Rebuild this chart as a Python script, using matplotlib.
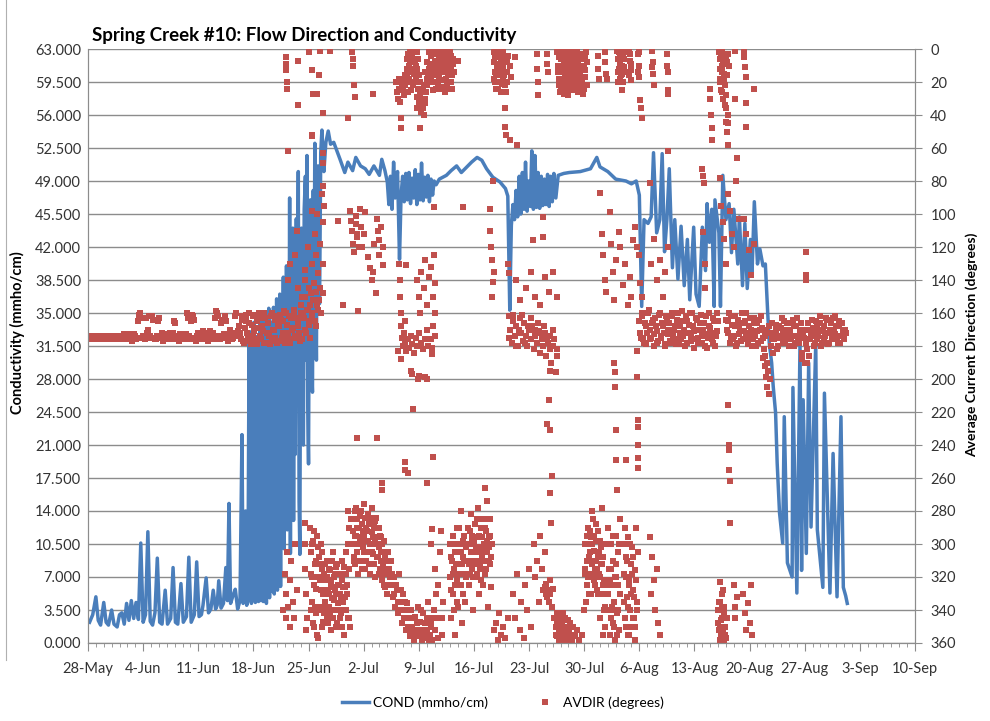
import datetime as dt
import numpy as np
import matplotlib
matplotlib.use('Agg')
import matplotlib.pyplot as plt
import matplotlib.dates as mdates
from matplotlib.lines import Line2D

# all times are days after 28-May
start = dt.datetime(2010, 5, 28)

# ---- COND (mmho/cm), line vertices (day, value) ----
cond_early = [(0.2, 2.2), (0.6, 3.0), (1.0, 4.9), (1.3, 2.4), (1.6, 1.9), (2.0, 4.3), (2.3, 2.2), (2.6, 1.9),
              (3.0, 3.5), (3.3, 2.0), (3.7, 1.7), (4.0, 3.0), (4.3, 3.2), (4.6, 2.0), (4.9, 4.2), (5.2, 2.4),
              (5.5, 4.5), (5.8, 2.6), (6.1, 4.3), (6.4, 2.5), (6.7, 10.6), (7.0, 2.2), (7.3, 3.0), (7.6, 11.8),
              (7.9, 2.3), (8.2, 1.9), (8.5, 3.2), (8.8, 9.0), (9.1, 2.2), (9.4, 2.0), (9.8, 5.6), (10.1, 2.0),
              (10.5, 2.6), (10.8, 8.0), (11.1, 2.2), (11.4, 2.0), (11.8, 6.3), (12.1, 2.2), (12.5, 2.8),
              (12.8, 9.1), (13.1, 2.2), (13.5, 3.0), (13.8, 8.6), (14.1, 2.8), (14.4, 3.0), (14.6, 4.0),
              (15.0, 6.9), (15.3, 3.2), (15.6, 3.6), (15.9, 5.6), (16.2, 3.6), (16.4, 4.0), (16.6, 6.6),
              (16.9, 3.7), (17.2, 4.2), (17.5, 8.0), (17.7, 4.5), (17.9, 14.8), (18.1, 4.2), (18.4, 5.0),
              (18.7, 5.7), (19.0, 3.6), (19.3, 4.5)]

cond_rise = [(19.55, 22.1), (19.7, 4.2), (19.85, 6.0), (20.0, 14.0), (20.15, 4.0), (20.3, 4.8),
             (20.45, 31.8), (20.55, 4.5), (20.65, 33.0), (20.75, 4.2), (20.85, 29.0), (20.95, 4.6),
             (21.05, 34.0), (21.15, 25.5), (21.25, 4.3), (21.35, 32.5), (21.45, 5.0), (21.55, 30.0),
             (21.65, 4.4), (21.75, 18.5), (21.85, 34.5), (21.95, 4.5), (22.05, 33.0), (22.15, 19.0),
             (22.25, 4.4), (22.35, 35.0), (22.45, 5.0), (22.55, 28.5), (22.65, 4.2), (22.75, 33.5),
             (22.85, 6.0), (22.95, 35.5), (23.05, 4.8), (23.15, 26.0), (23.25, 5.5), (23.35, 34.0),
             (23.45, 7.5), (23.55, 35.6), (23.65, 5.2), (23.75, 30.0), (23.85, 13.0), (23.95, 36.5),
             (24.05, 5.6), (24.15, 34.0), (24.25, 10.0), (24.35, 37.0), (24.45, 6.0), (24.55, 33.0),
             (24.65, 14.0), (24.8, 38.8), (24.9, 10.0), (25.0, 36.0), (25.1, 16.5), (25.2, 40.0),
             (25.3, 12.0), (25.4, 38.0), (25.5, 19.0), (25.6, 47.2), (25.7, 9.5), (25.8, 42.0),
             (25.9, 17.0), (26.0, 44.0), (26.1, 13.0), (26.2, 38.0), (26.3, 20.0), (26.45, 45.0),
             (26.55, 28.0), (26.7, 50.0), (26.8, 15.0), (26.9, 9.4), (27.0, 40.0), (27.1, 44.0),
             (27.2, 22.0), (27.35, 21.0), (27.45, 46.0), (27.6, 49.5), (27.7, 30.0), (27.8, 51.7),
             (27.9, 25.0), (28.0, 19.0), (28.1, 42.0), (28.25, 47.0), (28.35, 30.0), (28.5, 26.6),
             (28.6, 48.0), (28.7, 35.0), (28.8, 53.0), (28.9, 38.0), (29.0, 30.0), (29.1, 48.0),
             (29.2, 50.6), (29.3, 40.0), (29.4, 36.0), (29.55, 52.0), (29.7, 54.4)]

cond_july = [(29.95, 50.0), (30.2, 53.1), (30.5, 54.3), (30.8, 52.9), (31.2, 53.1), (31.6, 52.2),
             (32.0, 51.3), (32.6, 49.9), (33.0, 51.0), (33.6, 50.1), (34.0, 51.5), (34.6, 50.6),
             (35.2, 50.3), (35.7, 49.7), (36.3, 50.6), (37.0, 49.6), (37.3, 51.3), (37.7, 50.1),
             (38.0, 48.9), (38.2, 46.5), (38.4, 49.5), (38.6, 46.0), (38.8, 51.0), (39.0, 47.2),
             (39.3, 50.0), (39.55, 40.7), (39.75, 47.5), (39.95, 49.5), (40.15, 46.8), (40.35, 49.8),
             (40.55, 47.0), (40.75, 49.9), (40.95, 46.6), (41.15, 49.3), (41.35, 47.2), (41.55, 50.2),
             (41.75, 46.5), (41.95, 49.7), (42.15, 47.0), (42.35, 50.9), (42.55, 46.9), (42.75, 49.4),
             (42.95, 47.3), (43.15, 49.6), (43.35, 46.8), (43.55, 49.2), (43.75, 47.5), (43.95, 49.0),
             (44.2, 48.6), (44.6, 49.2), (45.5, 49.6), (46.1, 50.1), (46.8, 50.6), (47.4, 49.9),
             (48.1, 50.5), (48.7, 51.0), (49.4, 51.5), (50.0, 51.2), (50.6, 50.3), (51.4, 49.4),
             (52.3, 48.9), (53.0, 48.2), (53.3, 47.4), (53.55, 35.3), (53.75, 44.3), (53.95, 46.5),
             (54.15, 44.9), (54.35, 48.0), (54.55, 45.2), (54.75, 49.5), (54.95, 45.5), (55.15, 49.9),
             (55.35, 46.0), (55.55, 51.0), (55.75, 45.8), (55.95, 49.0), (56.15, 46.3), (56.35, 52.2),
             (56.55, 46.0), (56.75, 51.7), (56.95, 46.2), (57.15, 49.9), (57.35, 46.1), (57.55, 49.5),
             (57.75, 46.4), (57.95, 49.2), (58.15, 46.5), (58.35, 49.7), (58.55, 46.3), (58.75, 49.5),
             (58.95, 46.8), (59.15, 49.8), (59.4, 47.2), (59.7, 49.6), (60.4, 49.8), (61.1, 49.9),
             (62.5, 50.0), (63.8, 50.3), (64.6, 51.5), (65.0, 50.5), (66.0, 50.0), (67.0, 49.2),
             (68.3, 49.0), (69.0, 48.7), (69.6, 49.0), (70.0, 47.5)]

cond_aug = [(70.3, 35.7), (70.6, 44.9), (71.1, 44.5), (71.5, 45.2), (71.8, 52.0), (72.2, 43.5),
            (72.6, 44.9), (72.9, 51.9), (73.2, 41.5), (73.5, 44.9), (73.8, 50.3), (74.2, 39.8),
            (74.5, 44.9), (74.9, 38.6), (75.3, 44.2), (75.7, 37.9), (76.1, 42.8), (76.4, 36.4),
            (76.9, 44.1), (77.2, 37.0), (77.6, 35.7), (78.0, 44.1), (78.4, 39.5), (78.6, 46.6),
            (78.9, 42.5), (79.2, 46.0), (79.5, 35.7), (79.6, 47.0), (80.1, 43.5), (80.3, 35.7),
            (80.6, 49.6), (81.0, 44.9), (81.4, 46.6), (81.7, 41.4), (82.0, 46.0), (82.5, 40.2),
            (82.7, 45.2), (83.1, 37.9), (83.4, 44.5), (83.7, 37.6), (84.1, 42.8), (84.3, 39.0),
            (84.6, 46.8), (85.0, 40.2), (85.3, 41.8), (85.7, 40.0), (86.0, 40.2), (86.3, 35.0)]

cond_fall = [(86.5, 31.8), (86.8, 29.7), (87.0, 27.2), (87.3, 24.4), (87.5, 19.1), (87.8, 13.8),
             (88.2, 10.6), (88.4, 24.0), (88.8, 8.5), (89.4, 7.0), (89.5, 27.1), (90.0, 5.3),
             (90.4, 31.8), (90.6, 7.7), (90.8, 25.8), (91.2, 9.5), (91.5, 29.7), (91.8, 12.3),
             (92.4, 31.8), (92.6, 12.0), (93.3, 5.9), (93.5, 26.5), (94.2, 5.3), (94.6, 20.1),
             (95.1, 4.9), (95.6, 24.0), (95.9, 5.9), (96.2, 5.0), (96.4, 4.2)]

# ---- AVDIR (degrees) ----
# regularly sampled stretches of the flood-tide band: (first day, step, values)
band_may_jun = (0.0, 0.25, [175, 174, 176, 175, 174, 175, 176, 174, 175,
                            176, 175, 174, 175, 176, 175, 174, 176,
                            175, 174, 176, 175, 173, 175, 176, 174,
                            175, 161, 163, 174, 176, 172, 162, 175,
                            164, 176, 174, 163, 175, 177, 173, 175,
                            176, 174, 172, 166, 175, 177, 174, 176,
                            175, 173, 163, 176, 161, 164, 177, 172,
                            175, 173, 176, 172, 177, 171, 175, 176,
                            159, 162, 176, 164, 173, 165, 177, 170,
                            176, 172, 160, 171])
band_may_jun_b = (0.125, 0.25, [174, 176, 175, 174, 176, 175, 174, 175,
                                176, 174, 175, 176, 174, 175, 176, 175,
                                174, 175, 173, 176, 174, 175, 177, 173,
                                176, 165, 160, 175, 174, 163, 170, 174,
                                162, 175, 176, 165, 174, 172, 176, 174,
                                175, 172, 176, 165, 174, 176, 173, 175,
                                174, 176, 160, 174, 165, 162, 175, 174,
                                176, 174, 171, 176, 173, 176, 174, 172,
                                163, 160, 174, 166, 175, 162, 174, 176,
                                173, 175, 162, 174])
band_late_jun = (19.2, 0.2, [168, 176, 162, 178, 165, 172, 160, 177, 167, 174, 161, 179, 169, 163,
                             176, 171, 160, 178, 166, 174, 162, 177, 170, 164, 178, 168, 161, 175,
                             165, 178, 160, 172, 176, 163, 169, 158, 175, 165, 172, 160, 176, 163,
                             170, 158, 167, 175, 161, 152, 165, 147, 158])
band_late_jun_b = (19.3, 0.2, [172, 164, 177, 169, 161, 175, 166, 179, 162, 171, 176, 165, 160, 174,
                               168, 178, 163, 172, 166, 179, 160, 170, 175, 162, 168, 177, 164, 172,
                               159, 176, 167, 162, 178, 170, 160, 174, 163, 168, 177, 155, 162, 150,
                               172, 158, 165, 148, 160, 142, 168, 155])
band_jul = (53.4, 0.2, [162, 170, 178, 165, 174, 168, 180, 163, 172, 177, 166, 174, 180, 170, 176,
                        168, 182, 174, 178, 171, 184, 176, 180, 172, 186, 178, 174, 190, 180, 176,
                        196, 182])
band_jul_b = (53.5, 0.4, [175, 161, 180, 170, 161, 178, 168, 163, 170, 166, 172, 168, 176, 182,
                          170, 186])
band_aug = (70.0, 0.2, [165, 175, 160, 178, 168, 172, 158, 176, 166, 180, 163, 171, 177, 160, 174,
                        168, 179, 162, 173, 166, 178, 160, 170, 176, 164, 179, 168, 159, 174, 180,
                        165, 172, 160, 177, 168, 181, 163, 175, 170, 161, 178, 166, 173, 181, 160,
                        169, 176, 163, 180, 171, 165])
band_aug_b = (70.1, 0.2, [172, 162, 176, 166, 179, 160, 170, 175, 164, 173, 168, 178, 161, 175, 166,
                          172, 180, 164, 170, 177, 162, 174, 168, 179, 160, 172, 176, 165, 170, 162,
                          178, 167, 174, 160, 171, 176, 164, 178, 166, 174, 170, 180, 162, 175, 168,
                          172, 178, 165, 174, 160])
band_late_aug = (81.0, 0.2, [164, 172, 160, 176, 167, 174, 162, 178, 168, 171, 160, 176, 165, 173,
                             179, 163, 170, 176, 166, 180, 171, 164, 177, 169, 182, 174, 190, 168,
                             200, 176, 184, 172, 167, 180, 174, 169, 178, 165, 175, 170, 180, 166,
                             174, 168, 178, 163, 176, 170, 184, 172, 190, 178, 166, 186, 174, 169,
                             180, 165, 176, 171, 162, 178, 168, 174, 164, 179, 170, 176, 163, 173,
                             168, 178, 165, 174, 170, 176, 172])
band_late_aug_b = (81.1, 0.2, [170, 165, 178, 162, 175, 168, 180, 164, 173, 177,
                               166, 171, 160, 175, 168, 172, 180, 163, 174, 166,
                               178, 170, 162, 175, 186, 170, 195, 172, 180, 166,
                               176, 170, 182, 168, 175, 163, 172, 178, 166, 174,
                               170, 176, 164, 180, 168, 174, 178, 166, 188, 175,
                               170, 182, 170, 176, 164, 172, 178, 168, 174, 166,
                               180, 170, 175, 163, 172, 178, 166, 174, 170, 162,
                               176, 168, 178, 166, 174, 170])

# ebb-direction points near north (0-60 deg)
avdir_north = [(25.2, 5), (25.2, 9), (25.2, 13), (25.3, 20), (25.3, 24), (25.4, 62), (26.7, 7),
               (26.7, 34), (28.1, 2), (28.4, 13), (28.6, 27), (29.1, 27), (29.3, 16), (29.5, 1),
               (29.8, 39), (28.4, 53), (30.7, 1), (33.0, 42), (33.5, 2), (33.6, 6), (33.7, 10),
               (33.8, 22), (33.9, 29), (36.2, 27),
               (39.1, 20), (39.3, 30), (39.5, 24), (39.7, 48), (39.8, 42), (40.0, 19), (40.1, 28),
               (40.3, 22), (40.5, 12), (40.6, 3), (40.7, 18), (40.9, 8), (41.0, 25), (41.1, 1),
               (41.2, 14), (41.4, 6), (41.5, 20), (41.6, 10), (41.8, 2), (41.8, 29), (41.8, 36),
               (42.0, 16), (42.2, 28), (42.2, 48), (42.4, 35), (42.5, 24), (42.7, 40), (42.8, 30),
               (43.0, 18), (43.1, 22), (43.3, 12), (43.5, 4), (43.6, 9), (43.7, 16), (43.8, 25),
               (43.9, 1), (44.0, 7), (44.1, 13), (44.2, 20), (44.4, 3), (44.5, 10), (44.6, 17),
               (44.7, 24), (44.8, 6), (44.9, 14), (45.0, 1), (45.1, 9), (45.2, 19), (45.3, 26),
               (45.4, 4), (45.5, 12), (45.6, 21), (45.7, 8), (45.8, 15), (46.0, 2), (46.1, 11),
               (46.2, 24), (46.3, 6), (46.5, 14), (47.0, 7),
               (51.5, 2), (51.6, 8), (51.7, 14), (51.7, 20), (51.8, 5), (51.9, 11), (52.0, 24),
               (52.1, 1), (52.2, 16), (52.3, 9), (52.4, 26), (52.5, 3), (52.6, 12), (52.7, 19),
               (52.8, 7), (52.9, 22), (53.0, 36), (53.0, 47), (53.1, 52), (53.2, 14), (53.3, 4),
               (53.6, 10), (53.6, 55), (53.7, 17), (54.2, 5), (54.5, 58),
               (57.0, 3), (57.0, 12), (57.1, 20), (57.1, 28), (58.3, 3), (58.3, 9), (58.4, 14),
               (59.6, 2), (59.7, 10), (59.8, 18), (59.9, 26), (60.0, 6), (60.1, 14), (60.2, 21),
               (60.3, 1), (60.4, 9), (60.5, 17), (60.6, 24), (60.7, 4), (60.8, 12), (60.9, 20),
               (61.0, 28), (61.1, 7), (61.2, 15), (61.3, 22), (61.4, 2), (61.5, 10), (61.6, 18),
               (61.7, 25), (61.8, 5), (61.9, 13), (62.0, 20), (62.1, 1), (62.2, 9), (62.3, 16),
               (62.4, 23), (62.5, 6), (62.6, 13), (62.7, 19), (62.8, 27), (62.9, 3), (63.0, 11),
               (63.1, 17), (63.3, 8), (63.4, 22), (64.7, 4), (64.8, 12), (64.9, 18),
               (65.6, 2), (65.7, 8), (65.8, 15), (65.9, 18), (67.2, 1), (67.3, 6), (67.4, 12),
               (67.5, 3), (67.6, 9), (67.7, 16), (67.8, 25), (67.9, 4), (68.0, 11), (68.1, 2),
               (68.2, 14), (68.7, 1), (68.8, 7), (68.9, 13), (69.0, 19), (69.8, 3), (69.9, 10),
               (70.0, 17), (70.1, 31), (70.2, 36), (70.3, 42), (71.6, 1), (71.7, 8), (71.7, 15),
               (71.8, 22), (73.5, 3), (73.5, 10), (73.6, 14), (73.6, 25), (73.7, 27),
               (79.0, 24), (79.0, 30), (79.1, 40), (79.2, 48), (79.2, 55), (80.1, 2), (80.2, 6),
               (80.3, 12), (80.3, 18), (80.4, 25), (80.5, 1), (80.5, 10), (80.6, 30), (80.7, 4),
               (80.8, 15), (80.9, 22), (81.0, 36), (81.0, 44), (81.1, 8), (81.1, 50), (81.2, 58),
               (81.3, 3), (81.3, 40), (82.2, 1), (82.2, 30), (82.4, 66), (83.3, 1), (83.3, 5),
               (83.4, 11), (83.5, 17), (83.5, 33), (83.5, 47), (84.6, 24)]

avdir_north_dense = [(39.25, 26), (39.45, 18), (39.65, 32), (39.85, 22), (40.05, 25), (40.25, 16),
                     (40.45, 6), (40.55, 16), (40.65, 26), (40.75, 10), (40.85, 2), (40.95, 20),
                     (41.05, 12), (41.15, 5), (41.25, 22), (41.35, 15), (41.45, 1), (41.55, 8),
                     (41.65, 18), (41.75, 12), (41.85, 24), (41.95, 6), (42.05, 32), (42.15, 20),
                     (42.25, 38), (42.35, 26), (42.45, 30), (42.55, 36), (42.65, 22), (42.75, 33),
                     (42.85, 14), (42.95, 26), (43.05, 8), (43.15, 15), (43.25, 2), (43.35, 20),
                     (43.45, 11), (43.55, 18), (43.65, 3), (43.75, 10), (43.85, 20), (43.95, 14),
                     (44.05, 2), (44.15, 24), (44.25, 8), (44.35, 16), (44.45, 21), (44.55, 4),
                     (44.65, 12), (44.75, 1), (44.85, 19), (44.95, 8), (45.05, 23), (45.15, 14),
                     (45.25, 5), (45.35, 10), (45.45, 18), (45.55, 2), (45.65, 15), (45.75, 24),
                     (45.85, 6), (45.95, 12), (46.05, 20), (46.15, 4), (46.25, 16), (46.35, 9),
                     (51.55, 18), (51.65, 4), (51.75, 24), (51.85, 15), (51.95, 2), (52.05, 9),
                     (52.15, 20), (52.25, 4), (52.35, 14), (52.45, 7), (52.55, 21), (52.65, 2),
                     (52.75, 11), (52.85, 16), (52.95, 4), (53.05, 26), (53.15, 8), (53.25, 20),
                     (59.65, 14), (59.75, 5), (59.85, 22), (59.95, 12), (60.05, 25), (60.15, 3),
                     (60.25, 11), (60.35, 18), (60.45, 27), (60.55, 6), (60.65, 14), (60.75, 22),
                     (60.85, 2), (60.95, 9), (61.05, 17), (61.15, 24), (61.25, 5), (61.35, 12),
                     (61.45, 20), (61.55, 1), (61.65, 8), (61.75, 15), (61.85, 23), (61.95, 4),
                     (62.05, 11), (62.15, 18), (62.25, 26), (62.35, 3), (62.45, 14), (62.55, 21),
                     (62.65, 6), (62.75, 10), (62.85, 17), (62.95, 24), (63.05, 5), (63.15, 13),
                     (63.25, 2), (67.25, 14), (67.35, 20), (67.45, 2), (67.55, 18), (67.65, 4),
                     (67.75, 10), (67.85, 15), (67.95, 20), (68.05, 6), (68.75, 16), (68.85, 3),
                     (68.95, 9), (69.85, 14), (69.95, 2), (71.65, 11), (80.25, 20), (80.35, 4),
                     (80.45, 14), (80.55, 26), (80.65, 9), (80.75, 19), (80.85, 34), (80.95, 6),
                     (81.05, 28), (81.15, 16), (81.25, 45), (81.35, 10)]

# scattered points between the two main directions
avdir_mid = [(25.4, 140), (25.6, 130), (26.3, 125), (26.5, 110), (26.6, 145), (27.2, 150),
             (27.5, 134), (27.6, 140), (27.9, 120), (28.0, 145), (28.2, 155), (28.4, 130), (28.5, 98),
             (28.5, 52), (28.7, 142), (28.8, 112), (29.0, 125), (29.1, 100), (29.2, 136), (29.3, 152),
             (29.5, 118), (29.5, 145), (29.6, 160), (29.7, 88), (29.8, 130), (29.8, 105),
             (29.9, 148), (30.0, 95), (29.8, 63), (29.8, 69), (29.9, 83),
             (31.8, 104), (32.4, 155), (33.3, 98), (33.4, 104), (33.5, 110), (33.6, 118),
             (33.8, 123), (34.0, 101), (34.0, 106), (34.1, 114), (34.2, 112), (34.3, 159),
             (34.4, 120), (34.5, 97), (34.6, 108), (34.8, 120), (35.0, 112), (35.2, 99), (35.5, 126),
             (35.8, 133), (36.0, 140), (36.2, 135), (36.3, 118), (36.6, 148), (36.7, 103),
             (36.8, 110), (36.9, 116), (37.0, 125), (37.2, 108), (37.4, 120), (37.5, 131),
             (39.4, 183), (39.5, 130), (39.6, 140), (39.6, 150), (39.7, 160), (39.7, 188),
             (39.8, 168), (39.9, 175), (40.0, 180), (40.1, 172), (40.2, 165), (40.3, 178),
             (40.4, 183), (40.4, 131), (40.6, 176), (40.8, 181), (41.0, 174), (41.0, 195),
             (41.2, 179), (41.4, 184), (41.6, 175), (41.8, 180), (41.8, 140), (42.0, 172),
             (42.0, 150), (42.0, 198), (42.1, 160), (42.3, 178), (42.3, 135), (42.5, 182),
             (42.6, 145), (42.8, 176), (42.8, 128), (42.8, 199), (43.0, 170), (43.0, 155),
             (43.2, 180), (43.3, 138), (43.5, 176), (43.6, 132), (43.8, 168), (43.8, 150),
             (43.9, 125), (43.9, 96), (44.0, 174), (44.0, 160), (44.1, 142), (47.6, 96),
             (51.0, 97), (51.1, 110), (51.2, 120), (51.3, 128), (51.3, 150), (51.4, 141),
             (51.4, 80), (51.5, 135), (53.3, 130), (53.4, 136), (54.3, 140), (54.8, 152),
             (55.6, 145), (56.2, 135), (56.5, 116), (56.7, 150), (57.4, 155), (57.8, 102),
             (57.8, 114), (58.0, 138), (58.5, 147), (59.0, 135), (59.5, 150),
             (65.0, 87), (65.2, 112), (65.4, 125), (65.6, 140), (65.8, 147), (66.3, 99),
             (66.4, 118), (66.6, 135), (66.8, 152), (67.0, 128), (67.4, 111), (67.6, 120),
             (67.9, 143), (68.2, 130), (68.5, 155), (68.8, 138), (69.0, 150), (69.2, 116),
             (69.5, 108), (69.7, 120), (69.9, 125), (70.1, 142), (70.3, 150), (71.3, 81),
             (71.5, 130), (71.8, 115), (72.2, 140), (72.6, 128), (73.0, 150), (73.3, 135),
             (73.6, 120), (73.6, 62), (78.0, 73), (78.1, 77), (78.2, 81), (78.1, 111),
             (78.3, 130), (78.4, 145), (80.2, 78), (80.4, 95), (80.6, 105), (80.8, 115),
             (81.0, 130), (81.2, 88), (81.5, 98), (81.8, 112), (82.0, 120), (82.3, 80),
             (82.6, 103), (83.3, 103), (83.6, 112), (83.9, 122), (84.2, 137), (84.5, 118),
             (91.1, 123), (91.1, 140), (91.2, 137),
             (34.2, 236), (36.7, 236), (37.3, 263), (37.3, 267), (40.2, 255), (40.3, 250),
             (40.6, 257), (41.1, 197), (41.3, 218), (41.9, 200), (43.0, 200), (43.0, 263),
             (43.7, 181), (43.7, 185), (43.8, 247), (50.4, 266), (58.3, 227), (58.5, 213),
             (58.6, 195), (58.6, 231), (58.7, 269), (58.8, 287), (58.9, 259),
             (66.8, 190), (66.9, 196), (66.9, 205), (67.0, 231), (67.1, 249), (67.2, 267),
             (68.3, 249), (69.7, 183), (69.7, 199), (69.8, 225), (69.8, 229), (69.8, 240),
             (69.8, 248), (69.8, 254), (81.3, 216), (81.4, 240), (81.4, 243), (81.4, 255),
             (81.5, 262), (81.5, 287), (85.7, 187), (85.9, 192), (86.1, 199), (86.2, 205),
             (86.4, 209), (91.3, 190)]

# points near south (270-360 deg)
avdir_south = [(24.8, 340), (25.0, 318), (25.1, 330), (25.2, 345), (25.3, 305), (25.4, 338),
               (25.6, 322), (25.7, 350), (25.8, 310), (26.0, 335), (26.2, 345), (26.3, 300),
               (26.5, 328), (27.5, 287), (27.6, 300), (27.6, 315), (27.7, 330), (27.8, 345),
               (27.7, 352), (28.2, 290), (28.3, 305), (28.4, 320), (28.5, 335), (28.6, 298),
               (28.7, 350), (28.8, 312), (28.9, 327), (29.0, 342), (29.1, 295), (29.2, 357),
               (29.3, 308), (29.4, 322), (29.5, 338), (29.6, 300), (29.7, 315), (29.8, 347),
               (29.9, 330), (30.0, 318), (30.1, 335), (30.2, 322), (30.3, 345), (30.4, 310),
               (30.5, 328), (30.6, 338), (30.7, 316), (30.8, 352), (30.9, 324), (31.0, 333),
               (31.1, 305), (31.2, 320), (31.3, 340), (31.4, 328), (31.5, 314), (31.6, 348),
               (31.7, 325), (31.8, 336), (31.9, 318), (32.0, 330), (32.1, 342), (32.2, 322),
               (32.3, 310), (32.4, 335), (32.5, 355), (32.6, 326), (32.7, 318), (32.8, 340),
               (32.9, 330), (33.0, 300), (33.1, 345), (33.2, 315), (33.0, 280), (33.1, 290),
               (33.3, 350), (33.4, 285),
               (33.6, 300), (33.7, 285), (33.8, 310), (33.9, 295), (34.0, 278), (34.1, 305),
               (34.2, 290), (34.3, 318), (34.4, 300), (34.5, 283), (34.6, 296), (34.7, 310),
               (34.8, 288), (34.9, 302), (35.0, 276), (35.1, 295), (35.2, 315), (35.3, 290),
               (35.4, 305), (35.5, 282), (35.6, 298), (35.7, 312), (35.8, 286), (35.9, 300),
               (36.0, 293), (36.1, 278), (36.2, 306), (36.3, 288), (36.4, 298), (36.5, 320),
               (36.6, 284), (36.7, 296), (36.8, 308), (36.9, 290), (37.0, 302), (37.1, 315),
               (37.2, 296), (37.3, 322), (37.4, 305), (37.5, 312), (37.6, 298), (37.7, 326),
               (37.8, 310), (37.9, 318), (38.0, 330), (38.1, 305),
               (38.2, 315), (38.4, 325), (38.5, 310), (38.7, 332), (38.9, 320), (39.0, 338),
               (39.2, 328), (39.4, 342), (39.5, 318), (39.7, 335), (39.9, 348), (40.0, 330),
               (40.2, 340), (40.4, 352), (40.5, 336), (40.7, 345), (40.9, 356), (41.0, 340),
               (41.2, 350), (41.4, 358), (41.5, 344), (41.7, 352), (41.9, 338), (42.0, 356),
               (42.2, 347), (42.4, 359), (42.5, 342), (42.7, 352), (42.9, 357), (43.0, 345),
               (43.2, 335), (43.4, 355), (43.5, 348), (43.7, 358), (43.9, 340), (44.0, 352),
               (44.2, 330), (44.3, 345), (44.4, 357), (43.6, 300), (43.7, 291), (44.1, 315),
               (44.5, 325), (44.7, 305), (44.8, 292), (44.9, 345), (45.0, 355), (45.1, 335),
               (45.9, 300), (46.0, 320), (46.1, 345), (46.2, 310), (46.3, 295), (46.4, 330),
               (46.5, 315), (46.6, 355), (46.7, 305), (46.8, 290), (46.9, 322), (47.0, 338),
               (47.1, 300), (47.2, 312), (47.3, 280), (47.4, 325), (47.5, 348), (47.6, 308),
               (47.7, 295), (47.8, 318), (47.9, 335), (48.0, 302),
               (48.2, 310), (48.3, 290), (48.4, 325), (48.5, 300), (48.6, 282), (48.7, 315),
               (48.8, 298), (48.9, 340), (49.0, 305), (49.1, 288), (49.2, 320), (49.3, 296),
               (49.4, 310), (49.5, 278), (49.6, 330), (49.7, 302), (49.8, 315), (49.9, 290),
               (50.0, 308), (50.1, 325), (50.2, 285), (50.3, 300), (50.4, 318), (50.5, 292),
               (50.6, 274), (50.7, 305), (50.8, 338), (50.9, 296), (51.0, 312), (51.1, 285),
               (51.2, 326), (51.3, 300),
               (51.5, 352), (51.8, 348), (52.0, 358), (52.2, 342), (52.4, 355), (52.7, 350),
               (53.0, 357), (53.3, 345), (54.0, 330), (54.2, 345), (54.5, 318), (54.8, 352),
               (55.0, 335), (55.3, 357), (55.5, 325), (55.8, 340), (56.0, 315), (56.3, 350),
               (56.6, 300), (56.8, 320), (57.0, 310), (57.2, 335), (57.4, 295), (57.6, 315),
               (57.8, 328), (58.0, 305), (58.0, 326), (58.1, 330), (58.2, 324), (58.3, 332),
               (58.4, 328), (58.5, 335), (58.6, 322), (58.7, 330), (58.9, 338), (59.0, 327),
               (59.2, 345), (59.4, 350), (59.5, 342), (59.6, 356), (59.7, 346), (59.8, 359),
               (59.9, 352), (60.0, 344), (60.1, 355), (60.2, 348), (60.3, 358), (60.4, 350),
               (60.6, 345), (60.7, 357), (60.8, 352), (61.0, 359), (61.2, 348), (61.4, 355),
               (61.6, 350), (61.8, 356), (62.1, 352), (62.4, 358), (62.7, 355),
               (63.0, 340), (63.1, 318), (63.2, 300), (63.3, 325), (63.4, 310), (63.5, 290),
               (63.6, 330), (63.7, 305), (63.8, 318), (63.9, 296), (64.0, 312), (64.0, 280),
               (64.1, 285), (64.2, 322), (64.3, 304), (64.4, 315), (64.5, 298), (64.6, 328),
               (64.7, 308), (64.8, 292), (64.9, 318), (65.0, 345), (65.1, 302), (65.2, 330),
               (65.2, 278), (65.3, 312), (65.4, 355), (65.5, 322), (65.6, 338), (65.7, 350),
               (65.8, 300), (65.9, 325),
               (66.0, 290), (66.1, 315), (66.2, 340), (66.3, 355), (66.4, 300), (66.5, 325),
               (66.6, 348), (66.7, 310), (66.8, 335), (66.9, 358), (67.0, 295), (67.1, 320),
               (67.2, 342), (67.3, 305), (67.4, 352), (67.5, 330), (67.6, 285), (68.0, 300),
               (68.1, 318), (68.2, 345), (68.3, 308), (68.4, 332), (68.5, 355), (68.6, 296),
               (68.7, 322), (68.8, 340), (68.9, 312), (69.0, 350), (69.1, 302), (69.2, 328),
               (69.3, 345), (69.4, 316), (69.5, 358), (69.6, 290), (69.7, 335), (69.8, 305),
               (71.4, 296), (71.5, 330), (71.6, 308), (71.8, 322), (72.0, 340), (72.2, 315),
               (72.4, 348), (72.6, 355),
               (80.0, 340), (80.1, 352), (80.2, 358), (80.2, 323), (80.3, 335), (80.4, 346),
               (80.5, 355), (80.5, 338), (80.6, 328), (80.7, 360), (80.8, 342), (80.9, 350),
               (81.0, 357), (81.1, 345), (82.0, 325), (82.1, 338), (82.2, 345), (82.4, 332),
               (83.2, 330), (83.4, 342), (83.6, 352), (83.8, 336), (84.0, 348), (84.2, 325),
               (84.3, 355)]

avdir_south_dense = [(28.25, 340), (28.35, 318), (28.45, 300), (28.55, 348), (28.65, 325),
                     (28.75, 292), (28.85, 338), (28.95, 310), (29.05, 355), (29.15, 320),
                     (29.25, 302), (29.35, 340), (29.45, 312), (29.55, 328), (29.65, 350),
                     (29.75, 305), (29.85, 322), (29.95, 342), (30.05, 328), (30.15, 312),
                     (30.25, 338), (30.35, 320), (30.45, 348), (30.55, 315), (30.65, 330),
                     (30.75, 342), (30.85, 322), (30.95, 310), (31.05, 345), (31.15, 326),
                     (31.25, 334), (31.35, 318), (31.45, 350), (31.55, 330), (31.65, 312),
                     (31.75, 340), (31.85, 325), (31.95, 345), (32.05, 318), (32.15, 332),
                     (32.25, 350), (32.35, 326), (32.45, 314), (32.55, 340), (32.65, 332),
                     (32.75, 305), (32.85, 325), (32.95, 345),
                     (33.65, 292), (33.75, 308), (33.85, 280), (33.95, 312), (34.05, 295),
                     (34.15, 285), (34.25, 300), (34.35, 290), (34.45, 310), (34.55, 298),
                     (34.65, 280), (34.75, 300), (34.85, 315), (34.95, 292), (35.05, 305),
                     (35.15, 284), (35.25, 298), (35.35, 310), (35.45, 292), (35.55, 305),
                     (35.65, 288), (35.75, 300), (35.85, 318), (35.95, 284), (36.05, 305),
                     (36.15, 296), (36.25, 290), (36.35, 312), (36.45, 286), (36.55, 300),
                     (36.65, 308), (36.75, 290), (36.85, 300), (36.95, 318), (37.05, 295),
                     (37.15, 305), (37.25, 310), (37.35, 300), (37.45, 318), (37.55, 325),
                     (37.65, 308), (37.75, 315), (37.85, 325), (37.95, 305),
                     (38.3, 320), (38.6, 318), (38.8, 330), (39.1, 325), (39.3, 335), (39.6, 340),
                     (39.8, 328), (40.1, 345), (40.3, 335), (40.6, 350), (40.8, 340), (41.1, 352),
                     (41.3, 345), (41.6, 355), (41.8, 348), (42.1, 352), (42.3, 340), (42.6, 355),
                     (42.8, 348), (43.1, 352), (43.3, 358), (43.6, 350), (43.8, 345),
                     (46.05, 308), (46.15, 328), (46.25, 300), (46.35, 318), (46.45, 340),
                     (46.55, 305), (46.65, 325), (46.75, 312), (46.85, 335), (46.95, 300),
                     (47.05, 318), (47.15, 290), (47.25, 325), (47.35, 305), (47.45, 312),
                     (47.55, 330), (47.65, 298), (47.75, 310), (47.85, 300), (47.95, 320),
                     (48.25, 300), (48.35, 312), (48.45, 292), (48.55, 318), (48.65, 305),
                     (48.75, 295), (48.85, 320), (48.95, 310), (49.05, 298), (49.15, 312),
                     (49.25, 302), (49.35, 285), (49.45, 318), (49.55, 305), (49.65, 295),
                     (49.75, 312), (49.85, 305), (49.95, 322), (50.05, 296), (50.15, 310),
                     (50.25, 302), (50.35, 290), (50.45, 305), (50.55, 315), (50.65, 298),
                     (50.75, 285), (50.85, 310), (50.95, 302), (51.05, 295), (51.15, 308),
                     (59.45, 355), (59.55, 348), (59.65, 342), (59.75, 352), (59.85, 345),
                     (59.95, 358), (60.05, 350), (60.15, 346), (60.25, 354), (60.35, 342),
                     (60.5, 356), (60.65, 350), (60.9, 346), (61.1, 354), (61.3, 350), (61.5, 358),
                     (63.05, 315), (63.15, 300), (63.25, 335), (63.35, 295), (63.45, 320),
                     (63.55, 308), (63.65, 318), (63.75, 292), (63.85, 330), (63.95, 310),
                     (64.05, 300), (64.15, 318), (64.25, 295), (64.35, 325), (64.45, 310),
                     (64.55, 288), (64.65, 315), (64.75, 330), (64.85, 305), (64.95, 298),
                     (65.05, 320), (65.15, 312), (65.25, 300), (65.35, 325), (65.45, 308),
                     (65.55, 340), (66.05, 330), (66.15, 300), (66.25, 322), (66.35, 345),
                     (66.45, 315), (66.55, 338), (66.65, 295), (66.75, 350), (66.85, 320),
                     (66.95, 340), (67.05, 312), (67.15, 355), (67.25, 325), (67.35, 340),
                     (67.45, 300), (68.05, 335), (68.15, 290), (68.25, 320), (68.35, 350),
                     (68.45, 310), (68.55, 338), (68.65, 325), (68.75, 355), (68.85, 300),
                     (68.95, 330), (69.05, 318), (69.15, 345), (69.25, 308), (69.35, 332),
                     (69.45, 350), (69.55, 322), (69.65, 340),
                     (80.05, 348), (80.15, 335), (80.25, 350), (80.35, 356), (80.45, 330),
                     (80.55, 345), (80.65, 352), (80.75, 338), (80.85, 355), (80.95, 345)]

blue = '#4a7ebb'
red = '#c0504d'
grid_grey = '#8c8c8c'


def to_num(days):
    return mdates.date2num(start) + np.asarray(days, dtype=float)


def band_points(band):
    first, step, vals = band
    days = first + step * np.arange(len(vals))
    return days, np.array(vals)


plt.rcParams['font.family'] = ['Lato', 'DejaVu Sans']

fig = plt.figure(figsize=(9.9, 7.21), dpi=100)
ax = fig.add_axes([88 / 990, 1 - 643 / 721, (915 - 88) / 990, (643 - 49) / 721])
ax2 = ax.twinx()

# COND line
cond = cond_early + cond_rise + cond_july + cond_aug + cond_fall
cd, cv = zip(*cond)
ax.plot(to_num(cd), cv, color=blue, lw=2.5, solid_joinstyle='round', zorder=3)

# AVDIR points
mk = dict(ls='none', marker='s', ms=4.0, mew=0, color=red)
for band in [band_may_jun, band_may_jun_b, band_late_jun, band_late_jun_b, band_jul, band_jul_b,
             band_aug, band_aug_b, band_late_aug, band_late_aug_b]:
    d, v = band_points(band)
    ax2.plot(to_num(d), v, **mk)
for pts in [avdir_north, avdir_north_dense, avdir_mid, avdir_south, avdir_south_dense]:
    d, v = zip(*pts)
    ax2.plot(to_num(d), v, **mk)

# axes
ax.set_xlim(to_num(0), to_num(105))
ax.set_ylim(0, 63)
ax.set_yticks(np.arange(0, 63.01, 3.5))
ax.yaxis.set_major_formatter(plt.FuncFormatter(lambda v, p: f'{v:.3f}'))
ax.grid(axis='y', color=grid_grey, lw=1.0)
ax.set_axisbelow(True)

ax2.set_ylim(360, 0)
ax2.set_yticks(np.arange(0, 361, 20))

ax.set_xticks(to_num(np.arange(0, 106, 7)))
ax.xaxis.set_minor_locator(mdates.DayLocator())
ax.xaxis.set_major_formatter(mdates.DateFormatter('%-d-%b'))

for a in (ax, ax2):
    for s in a.spines.values():
        s.set_color(grid_grey)
    a.spines['top'].set_visible(False)

ax.tick_params(axis='y', length=0, labelsize=10.5, pad=5, labelcolor='#333333')
ax2.tick_params(axis='y', length=5, color=grid_grey, labelsize=10.5, pad=6, labelcolor='#333333')
ax.tick_params(axis='x', which='major', length=6, color=grid_grey, labelsize=10.5, pad=8,
               labelcolor='#333333')
ax.tick_params(axis='x', which='minor', length=3, color=grid_grey)

fig.text(92 / 990, 1 - 36 / 721, 'Spring Creek #10: Flow Direction and Conductivity',
         fontsize=13.5, fontweight='bold', va='center', ha='left')
fig.text(17 / 990, 1 - 333 / 721, 'Conductivity (mmho/cm)', rotation=90, fontsize=10.5,
         fontweight='bold', va='center', ha='center')
fig.text(972 / 990, 1 - 345 / 721, 'Average Current Direction (degrees)', rotation=90,
         fontsize=10, fontweight='bold', va='center', ha='center')

handles = [Line2D([], [], color=blue, lw=2.5),
           Line2D([], [], color=red, ls='none', marker='s', ms=4.0, mew=0)]
fig.legend(handles, ['COND (mmho/cm)', 'AVDIR (degrees)'], loc='center',
           bbox_to_anchor=(503 / 990, 1 - 703 / 721), ncol=2, frameon=False, fontsize=10,
           handlelength=1.9, columnspacing=3.2, handletextpad=0.3)

# edge of the neighbouring window in the screenshot
fig.add_artist(Line2D([6 / 990, 6 / 990], [1 - 660 / 721, 1], color='#b0b0b0', lw=0.8))

fig.savefig('out.png', dpi=100)
